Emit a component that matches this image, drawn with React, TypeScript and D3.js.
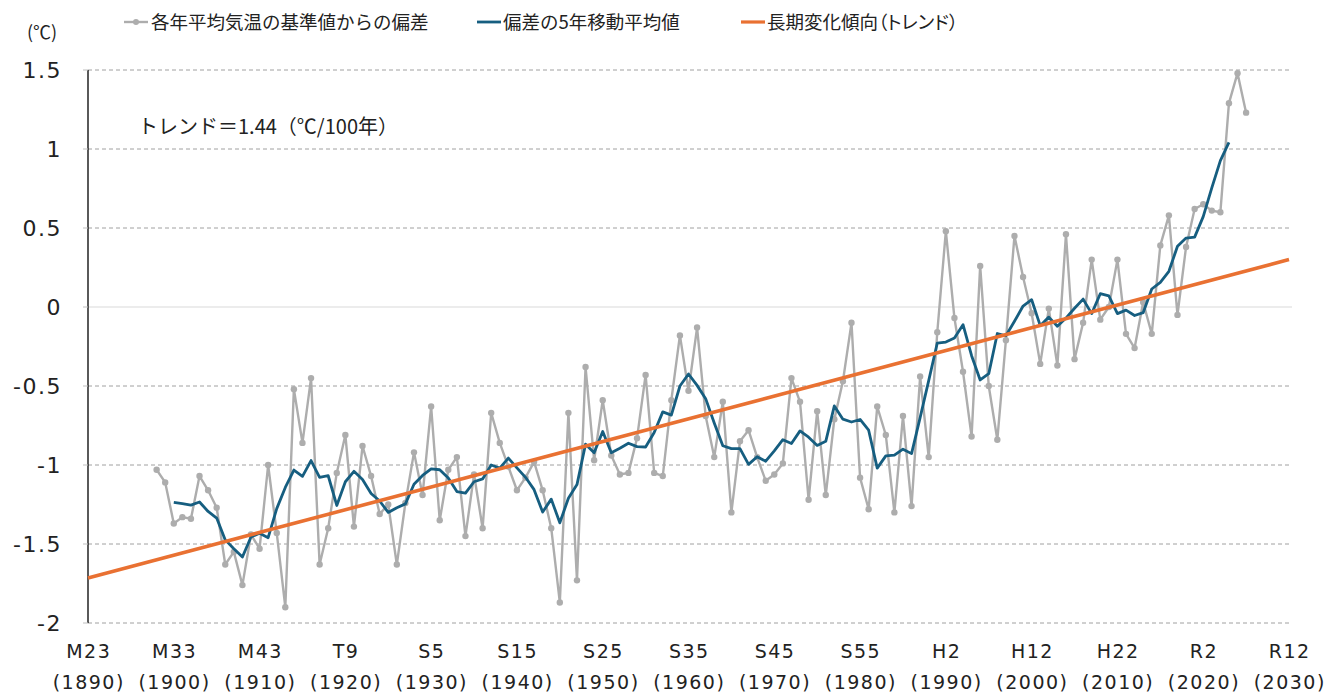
import React from "react";
import * as d3 from "d3";

// ---- data ----
const FIRST_YEAR = 1898;
const anomalies = [
  -1.03, -1.11, -1.37, -1.33, -1.34, -1.07, -1.16, -1.27, -1.63, -1.55,
  -1.76, -1.44, -1.53, -1.0, -1.43, -1.9, -0.52, -0.86, -0.45, -1.63,
  -1.4, -1.05, -0.81, -1.39, -0.88, -1.07, -1.31, -1.25, -1.63, -1.24,
  -0.92, -1.19, -0.63, -1.35, -1.03, -0.95, -1.45, -1.06, -1.4, -0.67,
  -0.86, -1.01, -1.16, -1.08, -0.98, -1.16, -1.4, -1.87, -0.67, -1.73,
  -0.38, -0.97, -0.59, -0.94, -1.06, -1.05, -0.83, -0.43, -1.05, -1.07,
  -0.59, -0.18, -0.53, -0.13, -0.69, -0.95, -0.6, -1.3, -0.85, -0.78,
  -0.95, -1.1, -1.06, -0.99, -0.45, -0.6, -1.22, -0.66, -1.19, -0.71,
  -0.47, -0.1, -1.08, -1.28, -0.63, -0.81, -1.3, -0.69, -1.26, -0.44,
  -0.95, -0.16, 0.48, -0.07, -0.41, -0.82, 0.26, -0.5, -0.84, -0.21,
  0.45, 0.19, -0.04, -0.36, -0.01, -0.37, 0.46, -0.33, -0.1, 0.3,
  -0.08, 0.0, 0.3, -0.17, -0.26, 0.03, -0.17, 0.39, 0.58, -0.05,
  0.38, 0.62, 0.65, 0.61, 0.6, 1.29, 1.48, 1.23,
];

const MA_FIRST_YEAR = 1900;
const movingAvg = [
  -1.236, -1.244, -1.254, -1.234, -1.294, -1.336, -1.474, -1.53, -1.582, -1.456,
  -1.432, -1.46, -1.276, -1.142, -1.032, -1.072, -0.972, -1.078, -1.068, -1.256,
  -1.106, -1.04, -1.092, -1.18, -1.228, -1.3, -1.27, -1.246, -1.122, -1.066,
  -1.024, -1.03, -1.082, -1.168, -1.178, -1.106, -1.088, -1.0, -1.02, -0.956,
  -1.018, -1.078, -1.156, -1.298, -1.216, -1.366, -1.21, -1.124, -0.868, -0.922,
  -0.788, -0.922, -0.894, -0.862, -0.884, -0.886, -0.794, -0.664, -0.684, -0.5,
  -0.424, -0.496, -0.58, -0.734, -0.878, -0.896, -0.896, -0.996, -0.948, -0.976,
  -0.91, -0.84, -0.864, -0.784, -0.824, -0.876, -0.85, -0.626, -0.71, -0.728,
  -0.712, -0.78, -1.02, -0.942, -0.938, -0.9, -0.928, -0.7, -0.466, -0.228,
  -0.222, -0.196, -0.112, -0.308, -0.462, -0.422, -0.168, -0.182, -0.09, 0.006,
  0.046, -0.118, -0.064, -0.122, -0.07, -0.008, 0.05, -0.042, 0.084, 0.07,
  -0.042, -0.02, -0.054, -0.036, 0.114, 0.156, 0.226, 0.384, 0.436, 0.442,
  0.572, 0.754, 0.926, 1.042,
];

const trendYears = [1890, 2030];
const trendValues = [-1.715, 0.3];

const yTicks = [-2, -1.5, -1, -0.5, 0, 0.5, 1, 1.5];
const yTickLabels = ["-2", "-1.5", "-1", "-0.5", "0", "0.5", "1", "1.5"];

const xTickYears = [1890, 1900, 1910, 1920, 1930, 1940, 1950, 1960, 1970, 1980, 1990, 2000, 2010, 2020, 2030];
const xTickEra = ["M23", "M33", "M43", "T9", "S5", "S15", "S25", "S35", "S45", "S55", "H2", "H12", "H22", "R2", "R12"];

const legendLabels = ["各年平均気温の基準値からの偏差", "偏差の5年移動平均値", "長期変化傾向（トレンド）"];
const unitLabel = "(℃)";
const trendNote = "トレンド＝1.44（℃/100年）";

const GRAY = "#ADADAD";
const BLUE = "#165E80";
const ORANGE = "#E97132";

export default function App() {
  const W = 1326;
  const H = 693;
  const x = d3.scaleLinear().domain([1890, 2030]).range([88, 1289]);
  const y = d3.scaleLinear().domain([-2, 1.5]).range([623, 70]);

  const grayPts = anomalies.map((v, i) => [FIRST_YEAR + i, v] as [number, number]);
  const bluePts = movingAvg.map((v, i) => [MA_FIRST_YEAR + i, v] as [number, number]);
  const trendPts = trendYears.map((yr, i) => [yr, trendValues[i]] as [number, number]);

  const line = d3
    .line<[number, number]>()
    .x((d) => x(d[0]))
    .y((d) => y(d[1]));

  const numFont = "'DejaVu Sans', sans-serif";
  const jpFont = "'Noto Sans CJK JP', sans-serif";
  const textColor = "#222222";

  return (
    <svg
      width={W}
      height={H}
      style={{ position: "absolute", left: 0, top: 0, background: "#fff" }}
    >
      {/* gridlines */}
      {yTicks.map((t) => (
        <line
          key={"g" + t}
          x1={x(1890)}
          x2={1292}
          y1={y(t)}
          y2={y(t)}
          stroke={t === 0 ? "#D9D9D9" : "#A0A0A0"}
          strokeWidth={1}
          strokeDasharray={t === 0 ? undefined : "4 3"}
        />
      ))}
      {/* y axis */}
      <line x1={x(1890)} x2={x(1890)} y1={y(1.5)} y2={y(-2)} stroke="#000" strokeWidth={1.3} />
      {yTicks.map((t) => (
        <line key={"t" + t} x1={x(1890) - 5} x2={x(1890)} y1={y(t)} y2={y(t)} stroke="#BFBFBF" strokeWidth={1} />
      ))}
      {yTicks.map((t, i) => (
        <text
          key={"yl" + t}
          x={62}
          y={y(t)}
          dy="0.36em"
          textAnchor="end"
          fontFamily={numFont}
          fontSize={22}
          letterSpacing={1.5}
          fill={textColor}
        >
          {yTickLabels[i]}
        </text>
      ))}
      <text x={42} y={39} textAnchor="middle" fontFamily={jpFont} fontSize={18} fill={textColor}>
        {unitLabel}
      </text>

      {/* x labels */}
      {xTickYears.map((yr, i) => (
        <g key={"xl" + yr} fontFamily={numFont} fill={textColor} fontSize={19} letterSpacing={1.5} textAnchor="middle">
          <text x={x(yr) + 0.75} y={658}>{xTickEra[i]}</text>
          <text x={x(yr) + 0.75} y={689}>{"(" + yr + ")"}</text>
        </g>
      ))}

      {/* series: annual anomalies */}
      <path d={line(grayPts) || ""} fill="none" stroke={GRAY} strokeWidth={2.4} strokeLinejoin="round" />
      {grayPts.map((d) => (
        <circle key={"c" + d[0]} cx={x(d[0])} cy={y(d[1])} r={3.2} fill={GRAY} />
      ))}
      {/* 5-year moving average */}
      <path d={line(bluePts) || ""} fill="none" stroke={BLUE} strokeWidth={2.8} strokeLinejoin="round" />
      {/* trend */}
      <path d={line(trendPts) || ""} fill="none" stroke={ORANGE} strokeWidth={3.6} strokeLinecap="butt" />

      {/* trend note */}
      <text x={138} y={134} fontFamily={jpFont} fontSize={20} fill={textColor}>
        {trendNote}
      </text>

      {/* legend */}
      <g fontFamily={jpFont} fontSize={18.5} fill={textColor}>
        <line x1={124} x2={148} y1={22} y2={22} stroke={GRAY} strokeWidth={2.4} />
        <circle cx={136} cy={22} r={3} fill={GRAY} />
        <text x={151} y={29}>{legendLabels[0]}</text>
        <line x1={477} x2={501} y1={22} y2={22} stroke={BLUE} strokeWidth={2.8} />
        <text x={503} y={29}>{legendLabels[1]}</text>
        <line x1={741} x2={765} y1={22} y2={22} stroke={ORANGE} strokeWidth={3.2} />
        <text x={767} y={29} style={{ fontFeatureSettings: "'palt'" }}>{legendLabels[2]}</text>
      </g>
    </svg>
  );
}
